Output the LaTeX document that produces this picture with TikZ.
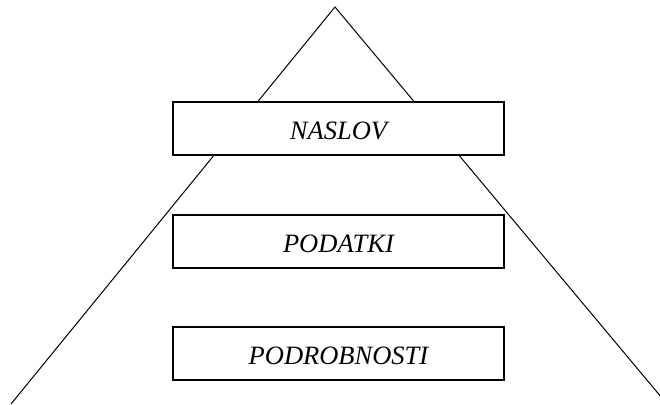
\documentclass[tikz,border=0pt]{standalone}
\usepackage{fontspec}
\setmainfont{Liberation Serif}
\begin{document}
\begin{tikzpicture}[x=1pt,y=-1pt,
  layerbox/.style={draw=black, line width=1.1pt, fill=white, minimum width=331pt, minimum height=53pt, inner sep=0pt, text height=21.5pt, text depth=0pt, font=\fontsize{26.5}{30}\selectfont\itshape},
  edge/.style={draw=black, line width=1pt}]
\useasboundingbox (0,0) rectangle (660,404);
\coordinate (apex) at (335,7);
\coordinate (bl) at (11,404);
\coordinate (br) at (667,404);
\begin{scope}
\clip (0,0) rectangle (660,404);
\draw[edge] (bl) -- (apex) -- (br);
\end{scope}
\node[layerbox] (naslov) at (338.5,128.5) {NASLOV};
\node[layerbox] (podatki) at (338.5,241.5) {PODATKI};
\node[layerbox] (podrob) at (338.5,353.5) {PODROBNOSTI};
\end{tikzpicture}
\end{document}
